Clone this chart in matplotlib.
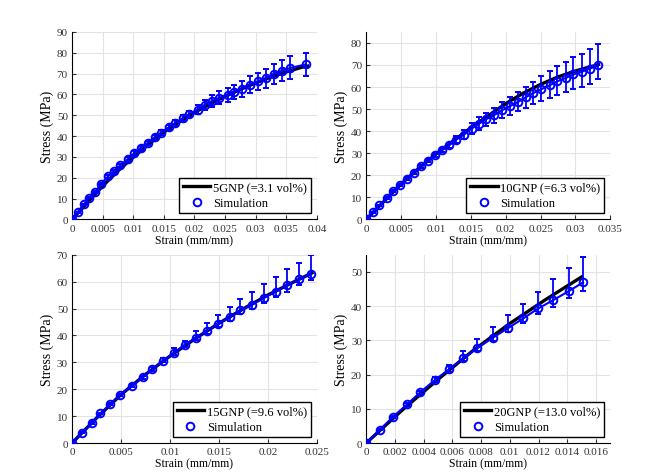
import numpy as np
import matplotlib.pyplot as plt
from matplotlib.lines import Line2D
from matplotlib.ticker import FuncFormatter

plt.rcParams['font.family'] = ['Liberation Serif', 'DejaVu Serif']

# ---- 5GNP (=3.1 vol%) ----
exp1_x = [0, 0.0025, 0.005, 0.0075, 0.01, 0.0125, 0.015, 0.0175, 0.02, 0.0225,
          0.025, 0.0275, 0.03, 0.0325, 0.035, 0.0375, 0.0385]
exp1_y = [0, 8.0, 16.0, 23.3, 29.8, 36.0, 41.8, 46.8, 51.3, 55.3,
          59.0, 62.4, 65.5, 68.3, 70.8, 73.0, 73.6]
sim1_x = [0, 0.00093, 0.0019, 0.00284, 0.0038, 0.00478, 0.00587, 0.0068, 0.00789, 0.00909,
          0.01012, 0.01121, 0.01236, 0.01349, 0.01453, 0.01578, 0.01687, 0.01807, 0.01916, 0.02053,
          0.02167, 0.02292, 0.02407, 0.02548, 0.0264, 0.02771, 0.02902, 0.03033, 0.03164, 0.03295,
          0.03431, 0.03567, 0.03818]
sim1_y = [0, 3.5, 7.2, 10.5, 13.3, 17.2, 20.6, 23.1, 26.0, 28.9,
          31.7, 34.4, 36.7, 39.4, 41.6, 44.2, 46.3, 48.6, 50.6, 52.7,
          55.0, 56.9, 58.4, 59.8, 61.1, 62.7, 64.6, 66.2, 67.8, 69.9,
          71.4, 72.7, 74.4]
sim1_lo = [0, 0.2, 0.3, 0.4, 0.5, 0.5, 0.6, 0.7, 0.8, 0.9,
           1.0, 1.0, 1.1, 1.2, 1.2, 1.3, 1.4, 1.5, 1.6, 2.0,
           2.4, 2.8, 3.0, 3.3, 3.5, 3.8, 4.0, 4.3, 4.5, 4.8,
           5.2, 5.4, 5.4]
sim1_hi = [0, 0.2, 0.3, 0.4, 0.5, 0.5, 0.6, 0.7, 0.8, 0.9,
           1.0, 1.0, 1.1, 1.2, 1.2, 1.3, 1.4, 1.5, 1.6, 2.0,
           2.4, 2.8, 3.0, 3.3, 3.5, 3.8, 4.0, 4.3, 4.5, 4.8,
           5.2, 5.5, 5.6]

# ---- 10GNP (=6.3 vol%) ----
exp2_x = [0, 0.0025, 0.005, 0.0075, 0.01, 0.0125, 0.015, 0.0175, 0.02, 0.0225,
          0.025, 0.0275, 0.03, 0.0333]
exp2_y = [0, 8.0, 16.0, 23.0, 29.6, 35.6, 41.5, 47.0, 52.5, 57.2,
          61.2, 64.6, 67.3, 70.2]
sim2_x = [0, 0.00096, 0.0019, 0.003, 0.0039, 0.0048, 0.0059, 0.0068, 0.0079, 0.0089,
          0.0098, 0.0109, 0.0119, 0.0129, 0.014, 0.0151, 0.0162, 0.0172, 0.0183, 0.0195,
          0.0206, 0.0218, 0.0229, 0.0239, 0.0251, 0.0263, 0.0274, 0.0286, 0.0297, 0.0309,
          0.0321, 0.0333]
sim2_y = [0, 3.3, 6.4, 9.7, 12.9, 15.6, 18.5, 21.2, 24.0, 26.6,
          29.2, 31.5, 33.6, 36.2, 38.4, 41.1, 43.4, 45.4, 47.2, 49.5,
          51.3, 53.3, 55.4, 57.2, 59.0, 60.8, 62.6, 64.1, 65.7, 66.9,
          68.4, 69.9]
sim2_lo = [0, 0.2, 0.3, 0.3, 0.4, 0.5, 0.5, 0.6, 0.7, 0.8,
           0.9, 1.0, 1.2, 1.5, 2.0, 2.5, 2.8, 3.0, 3.3, 3.6,
           4.0, 4.3, 4.8, 5.0, 5.5, 5.8, 6.0, 6.3, 6.5, 6.8,
           7.0, 6.3]
sim2_hi = [0, 0.2, 0.3, 0.3, 0.4, 0.5, 0.5, 0.6, 0.7, 0.8,
           0.9, 1.0, 1.2, 1.5, 2.0, 2.5, 2.8, 3.0, 3.3, 3.6,
           4.0, 4.3, 4.8, 5.0, 5.8, 6.3, 6.8, 7.4, 7.8, 8.3,
           8.8, 9.8]

# ---- 15GNP (=9.6 vol%) ----
exp3_x = [0, 0.0025, 0.005, 0.0075, 0.01, 0.0125, 0.015, 0.0175, 0.02, 0.0225, 0.0245]
exp3_y = [0, 9.3, 18.0, 25.5, 32.3, 38.6, 44.5, 49.9, 55.0, 59.6, 63.2]
sim3_x = [0, 0.001, 0.002, 0.0029, 0.0039, 0.0049, 0.0061, 0.0072, 0.0082, 0.0093,
          0.0104, 0.0115, 0.0127, 0.0138, 0.0149, 0.0161, 0.0172, 0.0184, 0.0196, 0.0208,
          0.022, 0.0232, 0.0244]
sim3_y = [0, 3.8, 7.4, 11.0, 14.5, 17.9, 21.3, 24.4, 27.5, 30.6,
          33.5, 36.5, 39.1, 41.7, 44.3, 46.8, 49.3, 51.4, 54.0, 56.3,
          58.7, 60.8, 62.9]
sim3_lo = [0, 0.2, 0.3, 0.3, 0.4, 0.4, 0.5, 0.5, 0.6, 0.6,
           0.7, 0.8, 0.9, 1.0, 1.2, 1.3, 1.5, 1.6, 1.9, 2.0,
           2.4, 2.2, 2.4]
sim3_hi = [0, 0.2, 0.3, 0.3, 0.4, 0.5, 0.6, 0.7, 0.8, 1.0,
           1.7, 1.6, 2.5, 3.0, 3.3, 3.7, 4.3, 4.7, 5.2, 5.4,
           6.1, 6.2, 6.8]

# ---- 20GNP (=13.0 vol%) ----
exp4_x = [0, 0.0025, 0.005, 0.0075, 0.01, 0.0125, 0.015]
exp4_y = [0, 9.6, 18.6, 27.2, 34.9, 41.9, 48.5]
sim4_x = [0, 0.00096, 0.00188, 0.00285, 0.00376, 0.00478, 0.00576, 0.00673, 0.00774, 0.0088,
          0.00986, 0.01094, 0.01198, 0.01301, 0.01409, 0.0151]
sim4_y = [0, 3.9, 7.7, 11.3, 14.8, 18.4, 21.5, 24.7, 27.7, 30.7,
          33.5, 36.4, 39.3, 41.7, 44.3, 46.9]
sim4_lo = [0, 0.2, 0.3, 0.4, 0.5, 0.6, 0.7, 0.8, 0.9, 1.0,
           1.0, 1.2, 1.5, 2.0, 1.9, 2.6]
sim4_hi = [0, 0.2, 0.3, 0.4, 0.5, 0.8, 1.4, 2.2, 2.7, 3.2,
           3.8, 4.3, 4.9, 6.1, 6.7, 7.3]

panels = [
    (exp1_x, exp1_y, sim1_x, sim1_y, sim1_lo, sim1_hi, '5GNP (=3.1 vol%)',
     (0, 0.04), np.arange(0, 0.0401, 0.005), (0, 90), np.arange(0, 91, 10)),
    (exp2_x, exp2_y, sim2_x, sim2_y, sim2_lo, sim2_hi, '10GNP (=6.3 vol%)',
     (0, 0.035), np.arange(0, 0.0351, 0.005), (0, 85), np.arange(0, 81, 10)),
    (exp3_x, exp3_y, sim3_x, sim3_y, sim3_lo, sim3_hi, '15GNP (=9.6 vol%)',
     (0, 0.025), np.arange(0, 0.0251, 0.005), (0, 70), np.arange(0, 71, 10)),
    (exp4_x, exp4_y, sim4_x, sim4_y, sim4_lo, sim4_hi, '20GNP (=13.0 vol%)',
     (0, 0.017), np.arange(0, 0.0161, 0.002), (0, 55), np.arange(0, 51, 10)),
]

positions = [
    [0.108, 0.538, 0.367, 0.393],
    [0.549, 0.538, 0.366, 0.393],
    [0.108, 0.069, 0.367, 0.395],
    [0.549, 0.069, 0.366, 0.395],
]

fig = plt.figure(figsize=(6.67, 4.77), dpi=100)
fmt = FuncFormatter(lambda v, p: '%g' % round(v, 6))

for pos, (ex, ey, sx, sy, lo, hi, lab, xl, xt, yl, yt) in zip(positions, panels):
    ax = fig.add_axes(pos)
    ax.plot(ex, ey, color='black', lw=2.4, zorder=3)
    ax.errorbar(sx, sy, yerr=[lo, hi], fmt='-o', color='blue', lw=1.5,
                ms=5.5, mfc='none', mew=1.4, elinewidth=1.3, capsize=2, capthick=1.3,
                zorder=4)
    ax.set_xlim(*xl)
    ax.set_ylim(*yl)
    ax.set_xticks(xt)
    ax.set_yticks(yt)
    ax.xaxis.set_major_formatter(fmt)
    ax.yaxis.set_major_formatter(fmt)
    ax.grid(True, color='#e3e3e3', lw=0.8)
    ax.set_axisbelow(True)
    for s in ['top', 'right']:
        ax.spines[s].set_visible(False)
    ax.tick_params(direction='in', length=3, labelsize=8, colors='#333333', pad=3)
    ax.set_xlabel('Strain (mm/mm)', fontsize=8.5, labelpad=1)
    ax.set_ylabel('Stress (MPa)', fontsize=10, labelpad=2)
    handles = [Line2D([], [], color='black', lw=2.4),
               Line2D([], [], color='blue', ls='none', marker='o', ms=5.5, mfc='none', mew=1.4)]
    ax.legend(handles, [lab, 'Simulation'], loc='lower right', fontsize=9,
              frameon=True, fancybox=False, edgecolor='black', framealpha=1,
              handlelength=2.2, handletextpad=0.2, borderpad=0.3, labelspacing=0.3,
              borderaxespad=0.5)

fig.savefig('out.png', dpi=100)
